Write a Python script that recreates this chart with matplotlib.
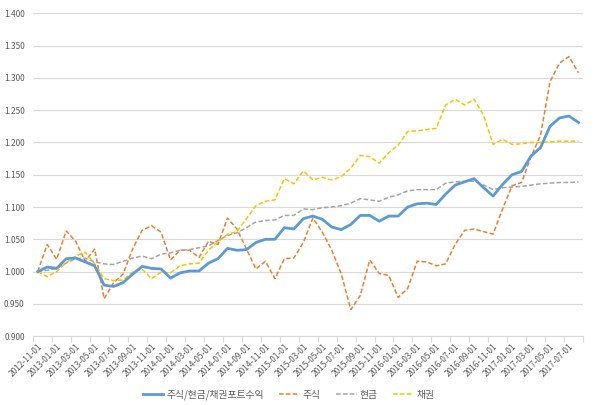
import matplotlib.pyplot as plt
plt.switch_backend('agg')

import pandas as pd

plt.rcParams['font.family'] = ['Noto Sans CJK KR', 'DejaVu Sans']

# monthly values, 2012-11 .. 2017-08
months = pd.date_range('2012-11-01', periods=58, freq='MS').strftime('%Y-%m-%d')

portfolio = [1.000, 1.007, 1.005, 1.020, 1.021, 1.015, 1.009, 0.979, 0.977, 0.983,
             0.996, 1.008, 1.005, 1.004, 0.990, 0.998, 1.001, 1.001, 1.013, 1.020,
             1.036, 1.033, 1.034, 1.045, 1.050, 1.050, 1.068, 1.066, 1.082, 1.086,
             1.081, 1.069, 1.065, 1.073, 1.087, 1.087, 1.078, 1.086, 1.086, 1.100,
             1.105, 1.106, 1.104, 1.120, 1.134, 1.139, 1.144, 1.130, 1.117, 1.135,
             1.150, 1.155, 1.179, 1.192, 1.225, 1.238, 1.241, 1.231]
stock = [1.000, 1.042, 1.019, 1.063, 1.047, 1.016, 1.035, 0.958, 0.983, 0.996,
         1.035, 1.064, 1.071, 1.061, 1.018, 1.033, 1.033, 1.022, 1.047, 1.042,
         1.083, 1.066, 1.035, 1.004, 1.016, 0.989, 1.020, 1.021, 1.045, 1.083,
         1.061, 1.033, 0.996, 0.941, 0.963, 1.018, 0.997, 0.994, 0.960, 0.974,
         1.016, 1.015, 1.009, 1.012, 1.042, 1.064, 1.066, 1.062, 1.058, 1.097,
         1.133, 1.138, 1.178, 1.211, 1.294, 1.323, 1.333, 1.308]
cash = [1.000, 1.002, 1.005, 1.013, 1.020, 1.021, 1.015, 1.012, 1.011, 1.016,
        1.021, 1.024, 1.020, 1.027, 1.029, 1.033, 1.034, 1.037, 1.040, 1.048,
        1.056, 1.060, 1.068, 1.077, 1.079, 1.080, 1.087, 1.087, 1.097, 1.096,
        1.099, 1.100, 1.102, 1.106, 1.113, 1.111, 1.109, 1.115, 1.119, 1.125,
        1.127, 1.127, 1.127, 1.137, 1.139, 1.140, 1.140, 1.134, 1.127, 1.130,
        1.131, 1.132, 1.134, 1.136, 1.137, 1.138, 1.138, 1.139]
bond = [1.000, 0.992, 1.000, 1.014, 1.024, 1.030, 1.012, 0.989, 0.986, 0.987,
        0.999, 1.004, 0.989, 0.999, 0.998, 1.009, 1.012, 1.013, 1.033, 1.046,
        1.058, 1.062, 1.082, 1.102, 1.109, 1.111, 1.144, 1.136, 1.156, 1.142,
        1.146, 1.142, 1.147, 1.160, 1.180, 1.178, 1.168, 1.184, 1.196, 1.217,
        1.218, 1.220, 1.222, 1.258, 1.267, 1.258, 1.267, 1.242, 1.197, 1.205,
        1.197, 1.198, 1.200, 1.200, 1.201, 1.202, 1.202, 1.202]

x = range(len(months))

fig = plt.figure(figsize=(6, 4.05), dpi=100)
ax = fig.add_axes([0.055, 0.170, 0.917, 0.797])

ax.plot(x, portfolio, color='#5B9BD5', lw=2.0, label='주식/현금/채권포트수익', zorder=5)
ax.plot(x, stock, color='#ED7D31', lw=1.1, ls=(0, (3, 1.5)), label='주식')
ax.plot(x, cash, color='#A5A5A5', lw=1.1, ls=(0, (3, 1.5)), label='현금')
ax.plot(x, bond, color='#FFC000', lw=1.1, ls=(0, (3, 1.5)), label='채권')

ax.set_ylim(0.9, 1.4)
ax.set_xlim(-0.5, len(months) - 0.5)
yt = [0.9 + 0.05 * k for k in range(11)]
ax.set_yticks(yt)
ax.set_yticklabels(['%.3f' % v for v in yt])
ax.yaxis.grid(True, color='#D9D9D9', lw=0.8)
ax.set_axisbelow(True)

ax.set_xticks(list(x)[::2])
ax.set_xticklabels(months[::2], rotation=45, ha='right', rotation_mode='anchor')
ax.set_xticks([k - 0.5 for k in range(0, len(months) + 1, 2)], minor=True)
ax.tick_params(axis='x', which='major', length=0, pad=4)
ax.tick_params(axis='x', which='minor', length=4, color='#D9D9D9', width=0.8)
ax.tick_params(axis='y', length=0, pad=6)
ax.tick_params(labelsize=6, labelcolor='#595959')

for s in ['top', 'right', 'left']:
    ax.spines[s].set_visible(False)
ax.spines['bottom'].set_color('#D9D9D9')

fig.legend(loc='center', bbox_to_anchor=(0.481, 0.025), ncol=4, frameon=False,
           fontsize=7, labelcolor='#595959', handlelength=2.1, handletextpad=0.3,
           columnspacing=1.6)

plt.savefig('out.png', dpi=100)
